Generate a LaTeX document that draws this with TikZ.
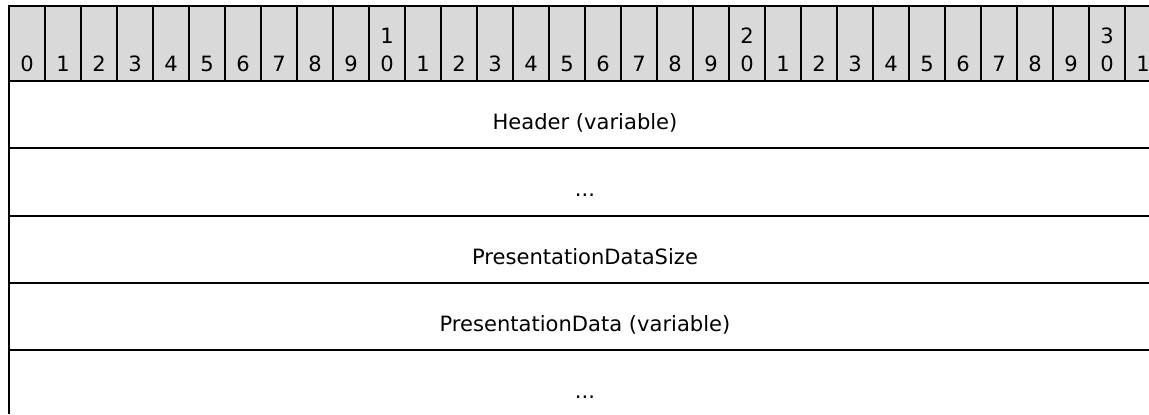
\documentclass[tikz,border=0pt]{standalone}
\usepackage{fontspec}
\setmainfont{DejaVu Sans}
\definecolor{hdrgray}{RGB}{217,217,217}
\tikzset{
  font=\fontsize{15.8pt}{19pt}\selectfont,
  % Rule lines
  rule/.style={line width=1.5pt},
  % Bit number cell
  bitcell/.style={rule, fill=hdrgray},
  % Bit number
  bitnum/.style={anchor=base, inner sep=0pt},
  % Field label
  field/.style={anchor=base, inner sep=0pt},
}

\begin{document}
\begin{tikzpicture}[x=0.75pt, y=-0.75pt]
  \useasboundingbox (0,0) rectangle (1149,414);
  \clip (0,0) rectangle (1149,414);

  % Bit ruler
  \foreach \i in {0,...,31} {
    \pgfmathtruncatemacro{\bitlo}{mod(\i,10)}
    \pgfmathtruncatemacro{\bithi}{\i/10}
    \filldraw[bitcell] (9+36*\i,6) rectangle ++(36,75);
    \node[bitnum] (b\i) at (27+36*\i,71) {\bitlo};
    \ifnum\bitlo=0 \ifnum\i>0
      \node[bitnum] (t\i) at (27+36*\i,43) {\bithi};
    \fi\fi
  }

  % Field rows
  \draw[rule] (9,81) -- (9,414);
  \draw[rule] (9,81) -- (1149,81);
  \draw[rule] (9,148.25) -- (1149,148.25);
  \draw[rule] (9,215.5) -- (1149,215.5);
  \draw[rule] (9,282.75) -- (1149,282.75);
  \draw[rule] (9,350) -- (1149,350);

  \node[field] (hdr) at (585,129.5) {Header (variable)};
  \node[field] (hdrmore) at (585,196.75) {...};
  \node[field] (pdsize) at (585,264) {PresentationDataSize};
  \node[field] (pdata) at (585,331.25) {PresentationData (variable)};
  \node[field] (pdmore) at (585,398.5) {...};
\end{tikzpicture}
\end{document}
